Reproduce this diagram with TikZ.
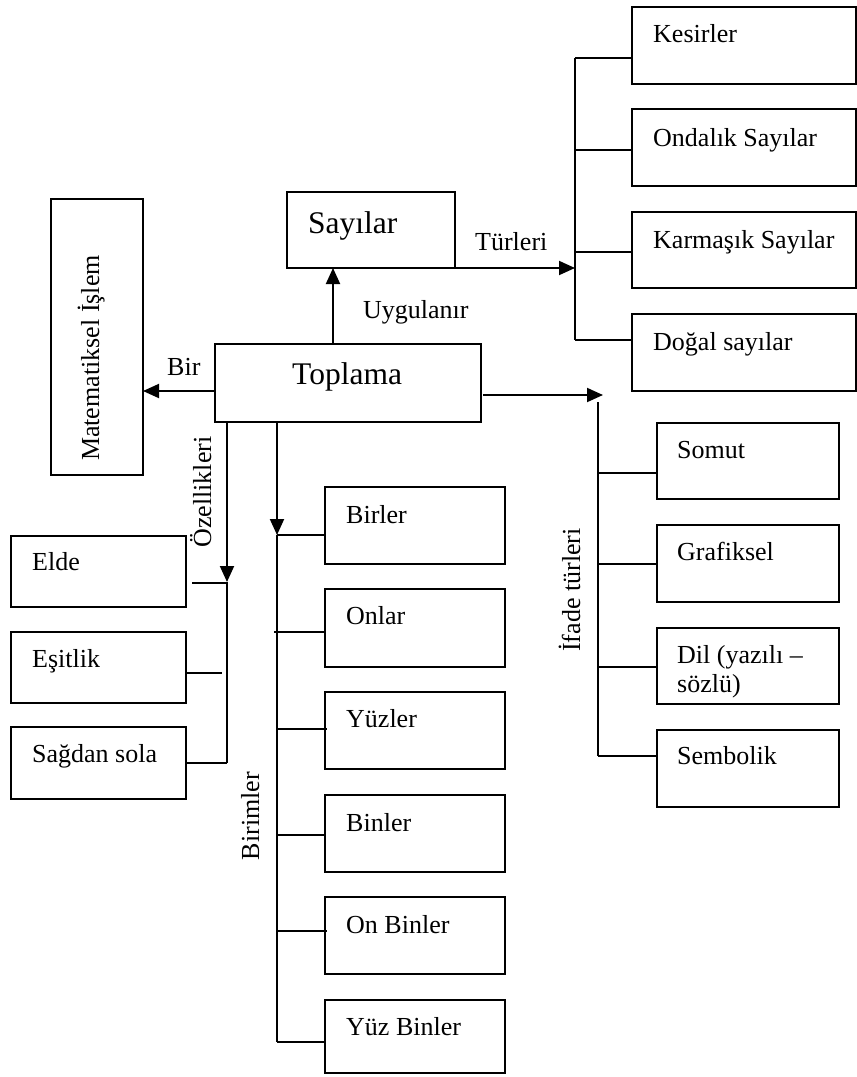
\documentclass[tikz,border=0pt]{standalone}
\usepackage{fontspec}
\setmainfont{Liberation Serif}
\usetikzlibrary{arrows.meta}
\newcommand{\smallfs}{\fontsize{26}{29}\selectfont}
\newcommand{\bigfs}{\fontsize{31.5}{35}\selectfont}
\begin{document}
\begin{tikzpicture}[x=1pt,y=-1pt,
  box/.style={draw, line width=1.9pt, anchor=north west, inner sep=0pt, outer sep=0pt},
  txt/.style={anchor=base west, inner sep=0pt, font=\smallfs},
  bigtxt/.style={anchor=base west, inner sep=0pt, font=\bigfs},
  vtxt/.style={anchor=base, rotate=90, inner sep=0pt, font=\smallfs},
  conn/.style={line width=1.9pt},
  arr/.style={conn, -{Triangle[length=16pt,width=14pt]}}]
\useasboundingbox (0,0) rectangle (857,1077);

% main boxes
\node[box, minimum width=92pt, minimum height=276pt] (mat) at (51,199) {};
\node[vtxt] (tmat) at (99,358) {Matematiksel İşlem};
\node[box, minimum width=168pt, minimum height=76pt] (say) at (287,192) {};
\node[bigtxt] (tsay) at (308,233) {Sayılar};
\node[box, minimum width=266pt, minimum height=78pt] (top) at (215,344) {};
\node[bigtxt] (ttop) at (292,384) {Toplama};

% number kinds
\node[box, minimum width=224pt, minimum height=77pt] (kes) at (632,7) {};
\node[txt] at (653,42) {Kesirler};
\node[box, minimum width=224pt, minimum height=77pt] (ond) at (632,109) {};
\node[txt] at (653,146) {Ondalık Sayılar};
\node[box, minimum width=224pt, minimum height=76pt] (kar) at (632,212) {};
\node[txt] at (653,248) {Karmaşık Sayılar};
\node[box, minimum width=224pt, minimum height=77pt] (dog) at (632,314) {};
\node[txt] at (653,350) {Doğal sayılar};

% expression kinds
\node[box, minimum width=182pt, minimum height=76pt] (som) at (657,423) {};
\node[txt] at (677,458) {Somut};
\node[box, minimum width=182pt, minimum height=77pt] (gra) at (657,525) {};
\node[txt] at (677,560) {Grafiksel};
\node[box, minimum width=182pt, minimum height=76pt] (dil) at (657,628) {};
\node[txt] (tdila) at (677,663) {Dil (yazılı –};
\node[txt] (tdilb) at (677,692) {sözlü)};
\node[box, minimum width=182pt, minimum height=77pt] (sem) at (657,730) {};
\node[txt] at (677,764) {Sembolik};

% properties
\node[box, minimum width=175pt, minimum height=71pt] (eld) at (11,536) {};
\node[txt] at (32,570) {Elde};
\node[box, minimum width=175pt, minimum height=71pt] (esi) at (11,632) {};
\node[txt] at (32,667) {Eşitlik};
\node[box, minimum width=175pt, minimum height=72pt] (sag) at (11,727) {};
\node[txt] at (32,762) {Sağdan sola};

% units
\node[box, minimum width=180pt, minimum height=77pt] (u1) at (325,487) {};
\node[txt] at (346,523) {Birler};
\node[box, minimum width=180pt, minimum height=78pt] (u2) at (325,589) {};
\node[txt] at (346,624) {Onlar};
\node[box, minimum width=180pt, minimum height=77pt] (u3) at (325,692) {};
\node[txt] at (346,727) {Yüzler};
\node[box, minimum width=180pt, minimum height=77pt] (u4) at (325,795) {};
\node[txt] at (346,831) {Binler};
\node[box, minimum width=180pt, minimum height=77pt] (u5) at (325,897) {};
\node[txt] at (346,933) {On Binler};
\node[box, minimum width=180pt, minimum height=73pt] (u6) at (325,1000) {};
\node[txt] at (346,1035) {Yüz Binler};

% Bir
\coordinate (birS) at (215,391);
\draw[arr] (birS) -- (birS -| mat.east);
\node[txt] at (167,375) {Bir};

% Uygulanir
\coordinate (uyS) at (333,344);
\draw[arr] (uyS) -- (uyS |- say.south);
\node[txt] at (363,318) {Uygulanır};

% Turleri
\coordinate (tuS) at (455,268);
\coordinate (tuE) at (575,268);
\coordinate (tuTop) at (575,58);
\coordinate (tuBot) at (575,340);
\draw[arr] (tuS) -- (tuE);
\node[txt] at (475,250) {Türleri};
\draw[conn] (tuTop) -- (tuBot);
\draw[conn] (tuTop) -- (tuTop -| kes.west);
\draw[conn] (575,150) coordinate (t2) -- (t2 -| ond.west);
\draw[conn] (575,252) coordinate (t3) -- (t3 -| kar.west);
\draw[conn] (tuBot) -- (tuBot -| dog.west);

% Ifade turleri
\coordinate (ifS) at (483,395);
\coordinate (ifE) at (603,395);
\draw[arr] (ifS) -- (ifE);
\coordinate (ifTop) at (598,402);
\coordinate (ifBot) at (598,756);
\draw[conn] (ifTop) -- (ifBot);
\draw[conn] (598,473) coordinate (i1) -- (i1 -| som.west);
\draw[conn] (598,564) coordinate (i2) -- (i2 -| gra.west);
\draw[conn] (598,667) coordinate (i3) -- (i3 -| dil.west);
\draw[conn] (ifBot) -- (ifBot -| sem.west);
\node[vtxt] at (580,590) {İfade türleri};

% Ozellikleri
\coordinate (ozS) at (227,422);
\coordinate (ozA) at (227,582);
\coordinate (ozBot) at (227,763);
\draw[arr] (ozS) -- (ozA);
\draw[conn] (ozA) -- (ozBot);
\draw[conn] (192,583) coordinate (o1) -- (227,583);
\draw[conn] (esi.east |- 0,673) coordinate (o2) -- (222,673);
\draw[conn] (ozBot) -- (ozBot -| sag.east);
\node[vtxt] at (211,492) {Özellikleri};

% Birimler
\coordinate (biS) at (277,422);
\coordinate (biA) at (277,535);
\coordinate (biBot) at (277,1042);
\draw[arr] (biS) -- (biA);
\draw[conn] (biA) -- (biBot);
\draw[conn] (biA) -- (biA -| u1.west);
\draw[conn] (274,632) coordinate (b2) -- (b2 -| u2.west);
\draw[conn] (277,729) coordinate (b3) -- ([xshift=2pt]b3 -| u3.west);
\draw[conn] (277,835) coordinate (b4) -- (b4 -| u4.west);
\draw[conn] (277,931) coordinate (b5) -- ([xshift=2pt]b5 -| u5.west);
\draw[conn] (biBot) -- (biBot -| u6.west);
\node[vtxt] at (259,816) {Birimler};
\end{tikzpicture}
\end{document}
